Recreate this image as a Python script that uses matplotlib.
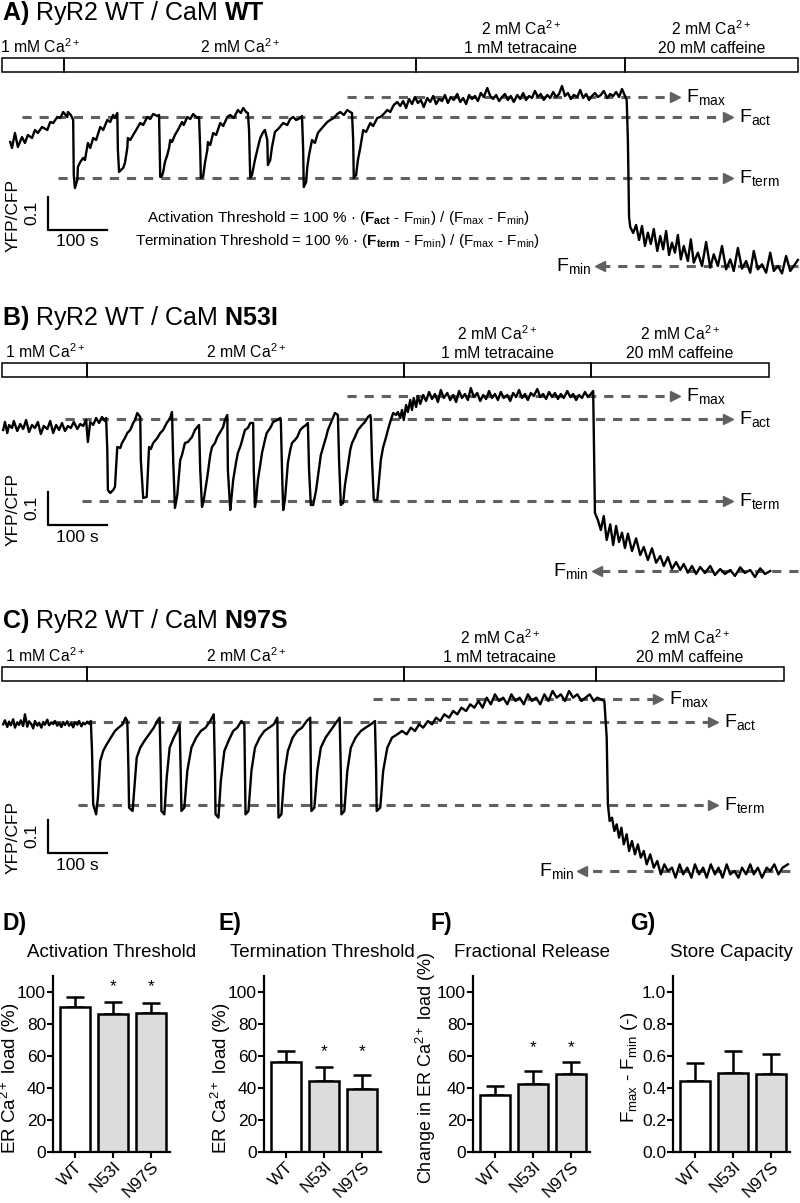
import numpy as np
import matplotlib
matplotlib.use("Agg")
import matplotlib.pyplot as plt
from matplotlib.patches import Rectangle
from matplotlib.transforms import blended_transform_factory

plt.rcParams["font.family"] = "Liberation Sans"
plt.rcParams["mathtext.fontset"] = "custom"
plt.rcParams["mathtext.rm"] = "Liberation Sans"
plt.rcParams["mathtext.it"] = "Liberation Sans:italic"
plt.rcParams["mathtext.bf"] = "Liberation Sans:bold"

# ---------------- traces: (time [s], YFP/CFP) ----------------
trace_WT = [
    (14, 1.372), (17, 1.354), (22, 1.399), (27, 1.357), (34, 1.387), (39, 1.369), (44, 1.393), (51, 1.384),
    (56, 1.408), (61, 1.399), (68, 1.417), (77, 1.408), (82, 1.432), (87, 1.429), (94, 1.447), (99, 1.444),
    (104, 1.462), (111, 1.447), (112, 1.462), (117, 1.453),
    (121, 1.438), (122, 1.273), (124, 1.234), (128, 1.258), (129, 1.297), (133, 1.312), (138, 1.324),
    (141, 1.318), (146, 1.369), (150, 1.354), (155, 1.384), (160, 1.378), (167, 1.417), (172, 1.408),
    (179, 1.438), (184, 1.432), (189, 1.453), (192, 1.444), (196, 1.459),
    (197, 1.348), (199, 1.282), (202, 1.288), (206, 1.294), (209, 1.309), (213, 1.354), (214, 1.384),
    (218, 1.378), (223, 1.393), (228, 1.408), (235, 1.429), (240, 1.423), (247, 1.447), (252, 1.441),
    (257, 1.456), (264, 1.450), (267, 1.453),
    (269, 1.267), (272, 1.270), (274, 1.282), (277, 1.312), (281, 1.333), (284, 1.354), (286, 1.378),
    (289, 1.372), (294, 1.393), (299, 1.408), (306, 1.432), (309, 1.423), (315, 1.447), (320, 1.441),
    (325, 1.456), (332, 1.444), (335, 1.447),
    (337, 1.348), (338, 1.264), (342, 1.270), (345, 1.309), (349, 1.348), (350, 1.372), (354, 1.363),
    (359, 1.399), (364, 1.393), (371, 1.429), (376, 1.420), (383, 1.447), (388, 1.453), (394, 1.444),
    (401, 1.468), (406, 1.459), (410, 1.474), (415, 1.462), (418, 1.459),
    (420, 1.408), (422, 1.264), (425, 1.273), (430, 1.318), (434, 1.348), (439, 1.384), (444, 1.402),
    (447, 1.408), (451, 1.378), (452, 1.303), (456, 1.318), (459, 1.357), (462, 1.384), (464, 1.402),
    (471, 1.414), (478, 1.429), (485, 1.423), (490, 1.441), (495, 1.447), (500, 1.438), (507, 1.444),
    (510, 1.450),
    (512, 1.348), (513, 1.237), (517, 1.252), (519, 1.297), (522, 1.333), (527, 1.378), (532, 1.369),
    (537, 1.399), (541, 1.408), (547, 1.420), (553, 1.432), (558, 1.438), (564, 1.444), (570, 1.456),
    (575, 1.462), (581, 1.453), (587, 1.468), (592, 1.462), (595, 1.459),
    (597, 1.378), (598, 1.264), (602, 1.273), (605, 1.318), (609, 1.354), (614, 1.408), (619, 1.402),
    (626, 1.429), (631, 1.420), (638, 1.444), (643, 1.447), (649, 1.456), (655, 1.468), (660, 1.462),
    (666, 1.483), (672, 1.492),
    (677, 1.480), (682, 1.495), (687, 1.474), (692, 1.501), (697, 1.486), (702, 1.507), (707, 1.489),
    (712, 1.498), (717, 1.477), (723, 1.504), (728, 1.492), (733, 1.510), (738, 1.486), (743, 1.501),
    (748, 1.495), (753, 1.513), (758, 1.489), (763, 1.507), (768, 1.498), (774, 1.516), (779, 1.492),
    (784, 1.504), (789, 1.486), (794, 1.513), (799, 1.501), (804, 1.510), (809, 1.495), (814, 1.519),
    (819, 1.507), (825, 1.534), (830, 1.510), (835, 1.501), (840, 1.513), (845, 1.495), (850, 1.507),
    (855, 1.516), (860, 1.498), (865, 1.510), (870, 1.492), (876, 1.513), (881, 1.501), (886, 1.519),
    (891, 1.498), (896, 1.510), (901, 1.504), (906, 1.525), (911, 1.507), (916, 1.516), (921, 1.498),
    (927, 1.513), (932, 1.504), (937, 1.522), (942, 1.507), (947, 1.516), (952, 1.540), (957, 1.510),
    (962, 1.519), (967, 1.501), (972, 1.513), (978, 1.507), (983, 1.528), (988, 1.504), (993, 1.516),
    (998, 1.498), (1003, 1.510), (1008, 1.519), (1013, 1.507), (1018, 1.513), (1023, 1.525), (1029, 1.504),
    (1034, 1.516), (1039, 1.510), (1044, 1.522), (1049, 1.507), (1054, 1.531), (1059, 1.510), (1062, 1.498),
    (1064, 1.378), (1066, 1.147), (1068, 1.117), (1073, 1.099),
    (1078, 1.123), (1083, 1.078), (1088, 1.120), (1093, 1.060), (1098, 1.100), (1103, 1.066), (1108, 1.111),
    (1114, 1.045), (1119, 1.090), (1124, 1.050), (1129, 1.105), (1134, 1.033), (1139, 1.070), (1144, 1.040),
    (1149, 1.093), (1154, 1.020), (1159, 1.060), (1166, 1.015), (1171, 1.080), (1176, 1.010), (1183, 1.040),
    (1190, 1.000), (1197, 1.072), (1204, 0.995), (1210, 1.035), (1217, 1.000), (1224, 1.060), (1231, 0.990),
    (1238, 1.020), (1244, 0.985), (1251, 1.054), (1258, 0.992), (1265, 1.015), (1272, 0.980), (1278, 1.045),
    (1285, 0.990), (1292, 1.005), (1299, 0.980), (1306, 1.040), (1312, 0.985), (1319, 1.000), (1326, 0.978),
    (1333, 1.030), (1340, 0.985), (1346, 1.000), (1353, 1.018),
]

trace_N53I = [
    (2, 1.423), (5, 1.447), (9, 1.414), (12, 1.438), (17, 1.429), (20, 1.450), (26, 1.420), (31, 1.441),
    (36, 1.426), (41, 1.453), (46, 1.417), (51, 1.438), (56, 1.429), (61, 1.447), (66, 1.411), (71, 1.435),
    (77, 1.426), (82, 1.450), (87, 1.414), (92, 1.438), (97, 1.423), (102, 1.444), (107, 1.420), (112, 1.435),
    (117, 1.429), (122, 1.447), (128, 1.426), (133, 1.441), (138, 1.435), (143, 1.453), (146, 1.387),
    (150, 1.447), (155, 1.438), (160, 1.459), (165, 1.444), (170, 1.462), (175, 1.450), (177, 1.459),
    (179, 1.363), (180, 1.243), (184, 1.234), (189, 1.243), (192, 1.252), (196, 1.372), (201, 1.369),
    (204, 1.384), (209, 1.399), (213, 1.414), (218, 1.423), (223, 1.444), (226, 1.453), (230, 1.474), (235, 1.462),
    (236, 1.333), (240, 1.219), (246, 1.222), (250, 1.372), (253, 1.366), (257, 1.384), (264, 1.399),
    (269, 1.414), (274, 1.423), (280, 1.444), (286, 1.459), (289, 1.477),
    (291, 1.333), (294, 1.189), (298, 1.228), (303, 1.333), (306, 1.348), (311, 1.384), (316, 1.387),
    (323, 1.402), (328, 1.423), (332, 1.432), (335, 1.438),
    (337, 1.303), (340, 1.192), (343, 1.213), (349, 1.282), (354, 1.348), (357, 1.372), (362, 1.384),
    (366, 1.402), (371, 1.417), (376, 1.432), (379, 1.453), (383, 1.468),
    (384, 1.303), (388, 1.183), (389, 1.198), (393, 1.273), (398, 1.327), (401, 1.354), (406, 1.378),
    (413, 1.423), (418, 1.429), (422, 1.444), (427, 1.444),
    (428, 1.303), (430, 1.192), (432, 1.213), (435, 1.273), (439, 1.318), (442, 1.354), (447, 1.393),
    (450, 1.414), (456, 1.429), (461, 1.447), (468, 1.453), (473, 1.459), (474, 1.453),
    (476, 1.303), (478, 1.183), (481, 1.213), (486, 1.324), (490, 1.363), (493, 1.384), (498, 1.393),
    (502, 1.402), (507, 1.423), (512, 1.432), (517, 1.438), (520, 1.444),
    (522, 1.303), (525, 1.198), (529, 1.198), (534, 1.243), (537, 1.282), (542, 1.348), (546, 1.372),
    (551, 1.402), (554, 1.423), (561, 1.453), (566, 1.474), (571, 1.468),
    (573, 1.333), (576, 1.198), (580, 1.204), (583, 1.258), (587, 1.303), (592, 1.363), (595, 1.384),
    (600, 1.402), (605, 1.423), (612, 1.438), (617, 1.447), (622, 1.462), (626, 1.468), (627, 1.459),
    (629, 1.333), (632, 1.213), (638, 1.213), (641, 1.273), (644, 1.333), (648, 1.372), (653, 1.402),
    (656, 1.423), (661, 1.453), (665, 1.474), (670, 1.468), (673, 1.477),
    (677, 1.459), (680, 1.483), (683, 1.453), (687, 1.498), (690, 1.477), (694, 1.513), (697, 1.483),
    (700, 1.519), (704, 1.492), (707, 1.525), (711, 1.501), (716, 1.528), (721, 1.510), (726, 1.537),
    (731, 1.516), (736, 1.531), (741, 1.507), (746, 1.543), (751, 1.519), (757, 1.534), (762, 1.513),
    (767, 1.528), (772, 1.507), (777, 1.540), (782, 1.519), (787, 1.531), (792, 1.513), (797, 1.549),
    (802, 1.522), (808, 1.534), (813, 1.510), (818, 1.528), (823, 1.516), (828, 1.540), (833, 1.519),
    (838, 1.531), (843, 1.513), (848, 1.537), (853, 1.519), (859, 1.528), (864, 1.510), (869, 1.534),
    (874, 1.522), (879, 1.543), (884, 1.519), (889, 1.531), (894, 1.513), (899, 1.534), (904, 1.525),
    (910, 1.546), (915, 1.522), (920, 1.531), (925, 1.516), (930, 1.537), (935, 1.522), (940, 1.534),
    (945, 1.516), (950, 1.531), (955, 1.519), (961, 1.540), (966, 1.522), (971, 1.531), (976, 1.513),
    (981, 1.528), (986, 1.519), (991, 1.537), (996, 1.522), (1001, 1.531), (1005, 1.540),
    (1006, 1.423), (1008, 1.174), (1013, 1.153), (1018, 1.123), (1023, 1.165), (1028, 1.093), (1034, 1.140),
    (1039, 1.078), (1044, 1.135), (1049, 1.087), (1054, 1.115), (1059, 1.069), (1064, 1.112), (1071, 1.060),
    (1078, 1.098), (1085, 1.048), (1091, 1.072), (1098, 1.033), (1105, 1.068), (1112, 1.025), (1119, 1.045),
    (1125, 1.015), (1132, 1.042), (1139, 1.006), (1146, 1.027), (1153, 1.003), (1159, 1.021), (1166, 0.995),
    (1173, 1.015), (1180, 0.991), (1187, 1.012), (1195, 0.994), (1204, 1.015), (1212, 0.988), (1221, 1.006),
    (1229, 0.991), (1238, 1.003), (1246, 0.985), (1255, 1.011), (1263, 0.994), (1272, 1.003), (1280, 0.982),
    (1289, 1.008), (1297, 0.991), (1306, 1.000),
]

trace_N97S = [
    (2, 1.440), (5, 1.452), (9, 1.432), (12, 1.448), (15, 1.437), (19, 1.455), (22, 1.430), (26, 1.446),
    (29, 1.438), (32, 1.452), (36, 1.435), (39, 1.470), (43, 1.433), (46, 1.449), (50, 1.440), (53, 1.428),
    (56, 1.450), (60, 1.436), (63, 1.445), (67, 1.430), (70, 1.447), (73, 1.439), (77, 1.454), (80, 1.437),
    (84, 1.446), (87, 1.441), (90, 1.450), (94, 1.436), (97, 1.444), (101, 1.432), (104, 1.447), (107, 1.438),
    (111, 1.449), (114, 1.436), (118, 1.443), (121, 1.431), (124, 1.446), (128, 1.439), (131, 1.450),
    (135, 1.434), (138, 1.445), (141, 1.440), (145, 1.448), (148, 1.442), (151, 1.450),
    (153, 1.36), (155, 1.20), (160, 1.17), (163, 1.22), (167, 1.33), (172, 1.36), (178, 1.38), (185, 1.40),
    (192, 1.42), (198, 1.43), (205, 1.44), (210, 1.46), (213, 1.45),
    (215, 1.30), (216, 1.19), (222, 1.18), (225, 1.25), (229, 1.34), (235, 1.37), (242, 1.39), (250, 1.41),
    (258, 1.43), (264, 1.45), (268, 1.46),
    (270, 1.30), (271, 1.18), (276, 1.17), (280, 1.28), (285, 1.37), (292, 1.40), (298, 1.42), (302, 1.44),
    (304, 1.28), (305, 1.18), (310, 1.19), (315, 1.30), (322, 1.37), (330, 1.40), (338, 1.42), (346, 1.43),
    (354, 1.45), (360, 1.47),
    (362, 1.30), (363, 1.17), (368, 1.16), (372, 1.27), (378, 1.36), (385, 1.39), (393, 1.42), (400, 1.43),
    (407, 1.45), (412, 1.44),
    (413, 1.30), (414, 1.17), (419, 1.18), (424, 1.30), (430, 1.37), (438, 1.40), (446, 1.42), (454, 1.43),
    (462, 1.44), (468, 1.46),
    (469, 1.30), (470, 1.16), (475, 1.17), (480, 1.29), (486, 1.36), (494, 1.40), (502, 1.42), (510, 1.43),
    (518, 1.45), (524, 1.46),
    (525, 1.30), (526, 1.18), (531, 1.19), (536, 1.30), (542, 1.37), (550, 1.40), (558, 1.42), (566, 1.44),
    (574, 1.46),
    (576, 1.30), (577, 1.17), (582, 1.18), (587, 1.30), (593, 1.37), (601, 1.40), (610, 1.42), (618, 1.43),
    (627, 1.44), (634, 1.45),
    (636, 1.30), (637, 1.18), (643, 1.19), (648, 1.30), (655, 1.37), (663, 1.40), (672, 1.41), (680, 1.42),
    (688, 1.41), (695, 1.43), (702, 1.42), (709, 1.44), (716, 1.43), (724, 1.45), (731, 1.44), (738, 1.46),
    (745, 1.45), (752, 1.47), (760, 1.46), (767, 1.48), (774, 1.47), (781, 1.49), (789, 1.48), (796, 1.50),
    (803, 1.49), (810, 1.51), (817, 1.49), (824, 1.52), (831, 1.50), (838, 1.53), (845, 1.51), (852, 1.52),
    (859, 1.50), (866, 1.53), (873, 1.51), (880, 1.52), (887, 1.50), (894, 1.53), (901, 1.51), (908, 1.52),
    (915, 1.50), (922, 1.53), (929, 1.51), (936, 1.54), (943, 1.52), (950, 1.53), (957, 1.51), (964, 1.54),
    (971, 1.52), (978, 1.53), (985, 1.51), (992, 1.52), (999, 1.53), (1006, 1.51), (1012, 1.52), (1024, 1.51),
    (1028, 1.40), (1030, 1.20), (1033, 1.15), (1037, 1.16), (1041, 1.12), (1045, 1.14), (1049, 1.10),
    (1053, 1.13), (1057, 1.08), (1062, 1.11), (1066, 1.06), (1071, 1.09), (1076, 1.05), (1081, 1.08),
    (1086, 1.04), (1091, 1.06), (1096, 1.02), (1102, 1.05), (1108, 1.01), (1114, 1.03), (1120, 0.99),
    (1126, 1.02), (1132, 1.00), (1139, 1.01), (1145, 0.98), (1152, 1.02), (1158, 0.99), (1165, 1.01),
    (1172, 0.98), (1178, 1.02), (1185, 0.99), (1192, 1.01), (1198, 0.98), (1205, 1.02), (1212, 0.99),
    (1218, 1.01), (1225, 0.98), (1232, 1.02), (1238, 0.99), (1245, 1.00), (1252, 0.98), (1258, 1.01),
    (1265, 0.99), (1272, 1.02), (1278, 0.99), (1285, 1.01), (1292, 0.98), (1300, 1.01), (1306, 1.00),
    (1313, 1.02), (1320, 0.99), (1327, 1.01), (1336, 1.02),
]

# solution changes (s)
phases_WT = [0, 105, 704, 1059, 1353]
phases_N53I = [0, 145, 683, 1001, 1304]
phases_N97S = [0, 145, 683, 1010, 1329]
conditions = ["1 mM Ca$^{\\mathregular{2+}}$", "2 mM Ca$^{\\mathregular{2+}}$",
              "2 mM Ca$^{\\mathregular{2+}}$\n1 mM tetracaine", "2 mM Ca$^{\\mathregular{2+}}$\n20 mM caffeine"]

# F levels (YFP/CFP): Fmax, Fact, Fterm, Fmin
levels_WT = [1.507, 1.447, 1.264, 1.000]
levels_N53I = [1.525, 1.456, 1.210, 1.000]
levels_N97S = [1.516, 1.447, 1.198, 1.000]
level_names = ["max", "act", "term", "min"]

# ---------------- summary bars ----------------
groups = ["WT", "N53I", "N97S"]
act_mean = [90.8, 86.5, 87.0]
act_sem = [6.2, 7.5, 6.3]
term_mean = [56.0, 44.5, 39.5]
term_sem = [7.3, 8.5, 8.5]
frac_mean = [35.5, 42.5, 48.5]
frac_sem = [5.7, 8.0, 7.5]
cap_mean = [0.445, 0.495, 0.485]
cap_sem = [0.11, 0.138, 0.125]
sig_vs_wt = [False, True, True]

# ---------------- layout ----------------
W, H = 800, 1203
fig = plt.figure(figsize=(W / 100, H / 100), dpi=100)


def frect(x0, y0, x1, y1):
    return [x0 / W, 1 - y1 / H, (x1 - x0) / W, (y1 - y0) / H]


def fy(y):
    return 1 - y / H


GRAY = "#606060"
T_MAX = 1355.0
S_PER_PX = 1.7
R_LIM = (0.958, 1.573)
HEAD = 17

trace_panels = [
    dict(title=r"$\mathbf{A)}$ RyR2 WT / CaM $\mathbf{WT}$", trace=trace_WT, phases=phases_WT,
         levels=levels_WT, ax_y=(75, 280), title_y=20, box_y=58, bar0=(78, 1.108),
         spans=[(587, 1153), (34, 1243), (95, 1243), (1353, 1008)]),
    dict(title=r"$\mathbf{B)}$ RyR2 WT / CaM $\mathbf{N53I}$", trace=trace_N53I, phases=phases_N53I,
         levels=levels_N53I, ax_y=(380, 585), title_y=325, box_y=363, bar0=(78, 1.138),
         spans=[(587, 1153), (107, 1243), (136, 1243), (1353, 1003)]),
    dict(title=r"$\mathbf{C)}$ RyR2 WT / CaM $\mathbf{N97S}$", trace=trace_N97S, phases=phases_N97S,
         levels=levels_N97S, ax_y=(680, 885), title_y=628, box_y=667, bar0=(78, 1.054),
         spans=[(631, 1124), (85, 1217), (129, 1217), (1340, 978)]),
]

for p in trace_panels:
    ax = fig.add_axes(frect(2, p["ax_y"][0], 2 + T_MAX / S_PER_PX, p["ax_y"][1]))
    ax.set_xlim(0, T_MAX)
    ax.set_ylim(*R_LIM)
    ax.axis("off")
    tr = blended_transform_factory(ax.transData, fig.transFigure)

    fig.text(2 / W, fy(p["title_y"]), p["title"], fontsize=18, va="baseline")

    ph = p["phases"]
    for i, (t0, t1) in enumerate(zip(ph[:-1], ph[1:])):
        ax.add_patch(Rectangle((t0, fy(p["box_y"] + 14)), t1 - t0, 14 / H, transform=tr,
                               fill=False, lw=1.1, edgecolor="black", clip_on=False))
        lines = conditions[i].split("\n")
        xc = max((t0 + t1) / 2, 64)
        for j, line in enumerate(reversed(lines)):
            ax.text(xc, fy(p["box_y"] - 5 - 18 * j), line, transform=tr, ha="center",
                    va="baseline", fontsize=11.3)

    t, r = zip(*p["trace"])
    ax.plot(t, r, color="black", lw=1.7, clip_on=False, zorder=3)

    for name, lvl, (s, tip) in zip(level_names, p["levels"], p["spans"]):
        label = r"$\mathregular{F_{%s}}$" % name
        if tip > s:
            ax.plot([s, tip - HEAD], [lvl, lvl], color=GRAY, lw=2.2, ls=(0, (3, 2.6)),
                    clip_on=False, zorder=2)
            ax.plot([tip - HEAD / 2], [lvl], marker=">", ms=7.5, color=GRAY, clip_on=False, zorder=2)
            ax.text(tip + 10, lvl, label, fontsize=14, ha="left", va="center", color="black")
        else:
            ax.plot([s, tip + HEAD], [lvl, lvl], color=GRAY, lw=2.2, ls=(0, (3, 2.6)),
                    clip_on=False, zorder=2)
            ax.plot([tip + HEAD / 2], [lvl], marker="<", ms=7.5, color=GRAY, clip_on=False, zorder=2)
            ax.text(tip - 6, lvl, label, fontsize=14, ha="right", va="center", color="black")

    t0, r0 = p["bar0"]
    ax.plot([t0, t0, t0 + 100], [r0 + 0.1, r0, r0], color="black", lw=1.6, clip_on=False)
    ax.text(t0 - 27, r0 + 0.05, "0.1", rotation=90, ha="center", va="center", fontsize=12.5)
    ax.text(t0 + 50, r0 - 0.036, "100 s", ha="center", va="center", fontsize=12.5)
    ax.text(t0 - 59, r0 + 0.045, "YFP/CFP", rotation=90, ha="center", va="center", fontsize=12.5)

fig.text(338 / W, fy(222), r"Activation Threshold = 100 % · ($\mathbf{F_{act}}$ - $\mathregular{F_{min}}$)"
         r" / ($\mathregular{F_{max}}$ - $\mathregular{F_{min}}$)", ha="center", va="baseline", fontsize=11)
fig.text(338 / W, fy(245), r"Termination Threshold = 100 % · ($\mathbf{F_{term}}$ - $\mathregular{F_{min}}$)"
         r" / ($\mathregular{F_{max}}$ - $\mathregular{F_{min}}$)", ha="center", va="baseline", fontsize=11)

# ---------------- bar charts ----------------
ca_label = r"ER Ca$^{\mathregular{2+}}$ load (%)"
bar_panels = [
    ("D)", 2, 53, "Activation Threshold", act_mean, act_sem, sig_vs_wt, ca_label, 100, 0.42, -0.37, 13.5),
    ("E)", 218, 264, "Termination Threshold", term_mean, term_sem, sig_vs_wt, ca_label, 100, 0.42, -0.37, 13.5),
    ("F)", 430, 473, "Fractional Release", frac_mean, frac_sem, sig_vs_wt,
     r"Change in ER Ca$^{\mathregular{2+}}$ load (%)", 100, 0.48, -0.40, 13),
    ("G)", 630, 673, "Store Capacity", cap_mean, cap_sem, [False, False, False],
     r"$\mathregular{F_{max}}$ - $\mathregular{F_{min}}$ (-)", 1.0, 0.48, -0.37, 13.5),
]
x = np.arange(len(groups))
for letter, lx, left, title, mean, sem, sig, ylab, top, ylab_y, ylab_x, ylab_fs in bar_panels:
    fig.text(lx / W, fy(930), letter, fontsize=16.5, fontweight="bold", va="baseline")
    ax = fig.add_axes(frect(left, 976, left + 117, 1152))
    ax.bar(x, mean, width=0.78, color=["white", "#dcdcdc", "#dcdcdc"], edgecolor="black",
           linewidth=1.8, zorder=2)
    ax.errorbar(x, mean, yerr=[np.zeros(len(x)), sem], fmt="none", ecolor="black",
                elinewidth=1.8, capsize=6.5, capthick=1.8, zorder=1)
    star_y = max(m + s for m, s, g in zip(mean, sem, sig) if g) + 0.095 * top if any(sig) else None
    for xi, g in zip(x, sig):
        if g:
            ax.text(xi, star_y, "*", ha="center", va="center", fontsize=12.5)
    ax.set_xlim(-0.57, 2.5)
    ax.set_ylim(0, 1.1 * top)
    ax.set_yticks(np.linspace(0, top, 6))
    if top == 1.0:
        ax.set_yticklabels(["%.1f" % v for v in np.linspace(0, top, 6)])
    ax.set_xticks(x)
    ax.set_xticklabels(groups, rotation=45, ha="right", rotation_mode="anchor")
    for s in ["top", "right"]:
        ax.spines[s].set_visible(False)
    for s in ["left", "bottom"]:
        ax.spines[s].set_linewidth(1.6)
    ax.tick_params(direction="out", length=4, width=1.5, pad=1, labelsize=12.5)
    ax.set_ylabel(ylab, fontsize=ylab_fs)
    ax.yaxis.label.set_verticalalignment("center")
    ax.yaxis.set_label_coords(ylab_x, ylab_y)
    ax.text(0.5, 1.108, title, transform=ax.transAxes, ha="center", va="baseline", fontsize=13.5)

fig.savefig("out.png", dpi=100)
